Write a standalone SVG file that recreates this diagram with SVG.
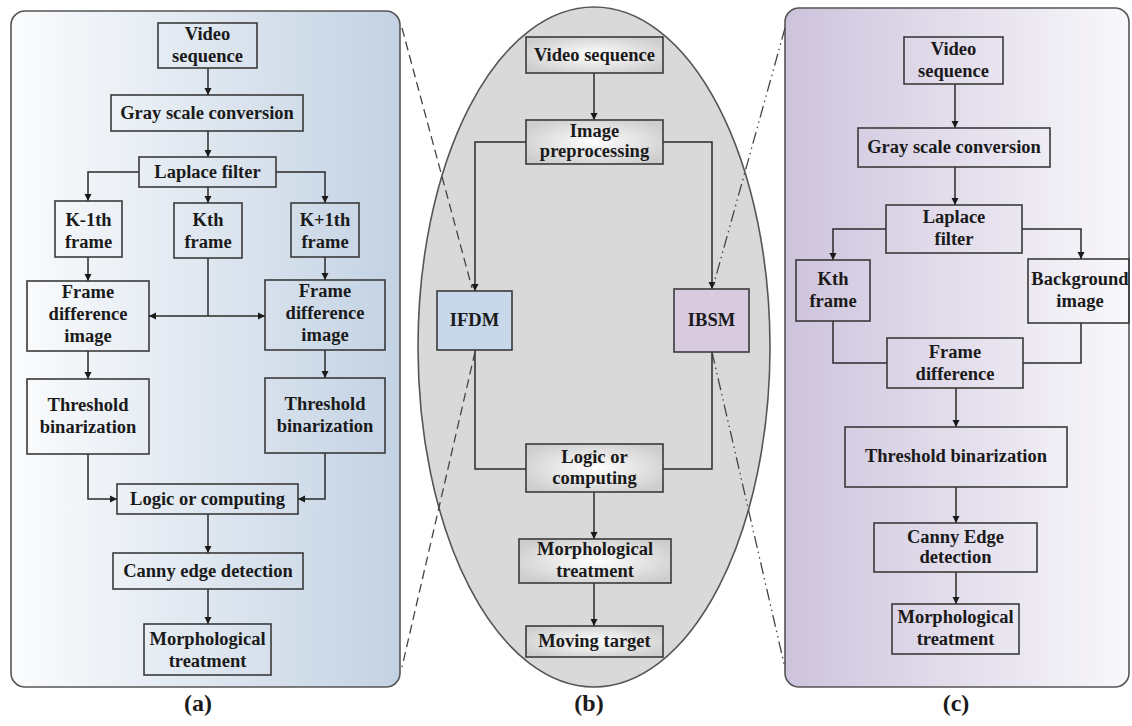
<svg xmlns="http://www.w3.org/2000/svg" width="1132" height="726" viewBox="0 0 1132 726">
<defs>
<linearGradient id="gA" x1="0" y1="0" x2="1" y2="0">
<stop offset="0" stop-color="#fbfcfd"/>
<stop offset="1" stop-color="#c3d2e3"/>
</linearGradient>
<linearGradient id="gC" x1="0" y1="0" x2="1" y2="0">
<stop offset="0" stop-color="#cdc3dc"/>
<stop offset="1" stop-color="#f9f8fb"/>
</linearGradient>
<radialGradient id="gB" cx="0.5" cy="0.5" r="0.6">
<stop offset="0" stop-color="#ffffff"/>
<stop offset="1" stop-color="#cdcdcd"/>
</radialGradient>
<marker id="ah" viewBox="0 0 10 10" refX="10" refY="5" markerWidth="7" markerHeight="9" markerUnits="userSpaceOnUse" orient="auto">
<path d="M0,0 L10,5 L0,10 z" fill="#1a1a1a"/>
</marker>
<style>
.panel{stroke:#555;stroke-width:1.6}
.box{fill:none;stroke:#3a3a3a;stroke-width:1.6}
.cbox{fill:url(#gB);stroke:#3a3a3a;stroke-width:1.6}
.t{font-family:"Liberation Serif","Times New Roman",serif;font-weight:bold;font-size:18.5px;fill:#1a1a1a;text-anchor:middle}
.cap{font-family:"Liberation Serif","Times New Roman",serif;font-weight:bold;font-size:24px;fill:#1a1a1a;text-anchor:middle}
.c{fill:none;stroke:#2a2a2a;stroke-width:1.5}
.a{marker-end:url(#ah)}
.dash{fill:none;stroke:#444;stroke-width:1.3;stroke-dasharray:9 5}
.dd{fill:none;stroke:#444;stroke-width:1.3;stroke-dasharray:12 4 1.5 4 1.5 4}
</style>
</defs>
<rect width="1132" height="726" fill="#ffffff"/>
<g id="panel-a"><rect class="panel" x="11" y="11" width="389" height="676" rx="14" fill="url(#gA)"/></g>
<g id="panel-b"><ellipse class="panel" cx="594" cy="347" rx="176" ry="340" fill="#d9d9d9"/></g>
<g id="panel-c"><rect class="panel" x="785" y="8" width="344" height="679" rx="14" fill="url(#gC)"/></g>

<g id="connectors">
<path class="c a" d="M208,68 V95"/>
<path class="c a" d="M208,131 V157"/>
<path class="c a" d="M139,172 H88 V201"/>
<path class="c a" d="M276,172 H325 V203"/>
<path class="c a" d="M208,187 V203"/>
<path class="c a" d="M88,257 V281"/>
<path class="c a" d="M325,257 V280"/>
<path class="c" d="M208,258 V316"/>
<path class="c a" d="M208,316 H149"/>
<path class="c a" d="M208,316 H265"/>
<path class="c a" d="M88,351 V379"/>
<path class="c a" d="M325,350 V378"/>
<path class="c a" d="M88,454 V499 H117"/>
<path class="c a" d="M325,453 V499 H298"/>
<path class="c a" d="M208,514 V553"/>
<path class="c a" d="M208,589 V624"/>

<path class="c a" d="M594,73 V120"/>
<path class="c a" d="M526,142 H475 V291"/>
<path class="c a" d="M663,142 H712 V289"/>
<path class="c" d="M475,350 V469 H526"/>
<path class="c" d="M712,352 V469 H663"/>
<path class="c a" d="M594,492 V539"/>
<path class="c a" d="M594,583 V626"/>

<path class="c a" d="M955,84 V128"/>
<path class="c a" d="M955,167 V205"/>
<path class="c a" d="M886,229 H833 V260"/>
<path class="c a" d="M1022,229 H1081 V259"/>
<path class="c" d="M833,321 V363 H887"/>
<path class="c" d="M1081,323 V363 H1023"/>
<path class="c a" d="M956,388 V427"/>
<path class="c a" d="M956,487 V523"/>
<path class="c a" d="M956,572 V604"/>

<path class="dash" d="M402,28 L472,288"/>
<path class="dash" d="M475,352 L402,667"/>
<path class="dd" d="M785,28 L713,287"/>
<path class="dd" d="M712,352 L785,668"/>
</g>

<g id="a-video"><rect class="box" x="158" y="23" width="99" height="45"/><text class="t" x="207.5" y="40">Video</text><text class="t" x="207.5" y="62">sequence</text></g>
<g id="a-gray"><rect class="box" x="111" y="95" width="192" height="36"/><text class="t" x="207" y="119">Gray scale conversion</text></g>
<g id="a-laplace"><rect class="box" x="139" y="157" width="137" height="30"/><text class="t" x="207.5" y="178">Laplace filter</text></g>
<g id="a-km1"><rect class="box" x="55" y="201" width="67" height="56"/><text class="t" x="88.5" y="226">K-1th</text><text class="t" x="88.5" y="248">frame</text></g>
<g id="a-k"><rect class="box" x="174" y="203" width="68" height="55"/><text class="t" x="208" y="226">Kth</text><text class="t" x="208" y="248">frame</text></g>
<g id="a-kp1"><rect class="box" x="291" y="203" width="68" height="54"/><text class="t" x="325" y="226">K+1th</text><text class="t" x="325" y="248">frame</text></g>
<g id="a-fdi1"><rect class="box" x="27" y="281" width="122" height="70"/><text class="t" x="88" y="298">Frame</text><text class="t" x="88" y="320">difference</text><text class="t" x="88" y="342">image</text></g>
<g id="a-fdi2"><rect class="box" x="265" y="280" width="120" height="70"/><text class="t" x="325" y="297">Frame</text><text class="t" x="325" y="319">difference</text><text class="t" x="325" y="341">image</text></g>
<g id="a-tb1"><rect class="box" x="27" y="379" width="122" height="75"/><text class="t" x="88" y="411">Threshold</text><text class="t" x="88" y="433">binarization</text></g>
<g id="a-tb2"><rect class="box" x="265" y="378" width="120" height="75"/><text class="t" x="325" y="410">Threshold</text><text class="t" x="325" y="432">binarization</text></g>
<g id="a-logic"><rect class="box" x="117" y="484" width="181" height="30"/><text class="t" x="207.5" y="505">Logic or computing</text></g>
<g id="a-canny"><rect class="box" x="113" y="553" width="190" height="36"/><text class="t" x="208" y="577">Canny edge detection</text></g>
<g id="a-morph"><rect class="box" x="144" y="624" width="127" height="51"/><text class="t" x="207.5" y="645">Morphological</text><text class="t" x="207.5" y="667">treatment</text></g>

<g id="b-video"><rect class="cbox" x="526" y="37" width="137" height="36"/><text class="t" x="594.5" y="61">Video sequence</text></g>
<g id="b-pre"><rect class="cbox" x="526" y="120" width="137" height="44"/><text class="t" x="594.5" y="137">Image</text><text class="t" x="594.5" y="157">preprocessing</text></g>
<g id="b-ifdm"><rect x="437" y="291" width="75" height="59" fill="#c8d8ea" stroke="#3a3a3a" stroke-width="1.6"/><text class="t" x="474.5" y="326">IFDM</text></g>
<g id="b-ibsm"><rect x="674" y="289" width="75" height="63" fill="#d8cbe0" stroke="#3a3a3a" stroke-width="1.6"/><text class="t" x="711.5" y="326">IBSM</text></g>
<g id="b-logic"><rect class="cbox" x="526" y="444" width="137" height="48"/><text class="t" x="594.5" y="463">Logic or</text><text class="t" x="594.5" y="484">computing</text></g>
<g id="b-morph"><rect class="cbox" x="519" y="539" width="152" height="44"/><text class="t" x="595" y="555">Morphological</text><text class="t" x="595" y="577">treatment</text></g>
<g id="b-moving"><rect class="cbox" x="526" y="626" width="137" height="31"/><text class="t" x="594.5" y="647">Moving target</text></g>

<g id="c-video"><rect class="box" x="904" y="37" width="99" height="47"/><text class="t" x="953.5" y="55">Video</text><text class="t" x="953.5" y="77">sequence</text></g>
<g id="c-gray"><rect class="box" x="858" y="128" width="192" height="39"/><text class="t" x="954" y="153">Gray scale conversion</text></g>
<g id="c-laplace"><rect class="box" x="886" y="205" width="136" height="48"/><text class="t" x="954" y="223">Laplace</text><text class="t" x="954" y="245">filter</text></g>
<g id="c-k"><rect class="box" x="796" y="260" width="74" height="61"/><text class="t" x="833" y="285">Kth</text><text class="t" x="833" y="307">frame</text></g>
<g id="c-bg"><rect class="box" x="1028" y="259" width="101" height="64"/><text class="t" x="1080" y="285">Background</text><text class="t" x="1080" y="307">image</text></g>
<g id="c-fd"><rect class="box" x="887" y="338" width="136" height="50"/><text class="t" x="955" y="358">Frame</text><text class="t" x="955" y="380">difference</text></g>
<g id="c-tb"><rect class="box" x="845" y="427" width="222" height="60"/><text class="t" x="956" y="462">Threshold binarization</text></g>
<g id="c-canny"><rect class="box" x="874" y="523" width="163" height="49"/><text class="t" x="955.5" y="543">Canny Edge</text><text class="t" x="955.5" y="563">detection</text></g>
<g id="c-morph"><rect class="box" x="892" y="604" width="127" height="50"/><text class="t" x="955.5" y="623">Morphological</text><text class="t" x="955.5" y="645">treatment</text></g>

<g id="captions">
<text class="cap" x="198" y="711">(a)</text>
<text class="cap" x="589" y="711">(b)</text>
<text class="cap" x="956" y="711">(c)</text>
</g>
</svg>
